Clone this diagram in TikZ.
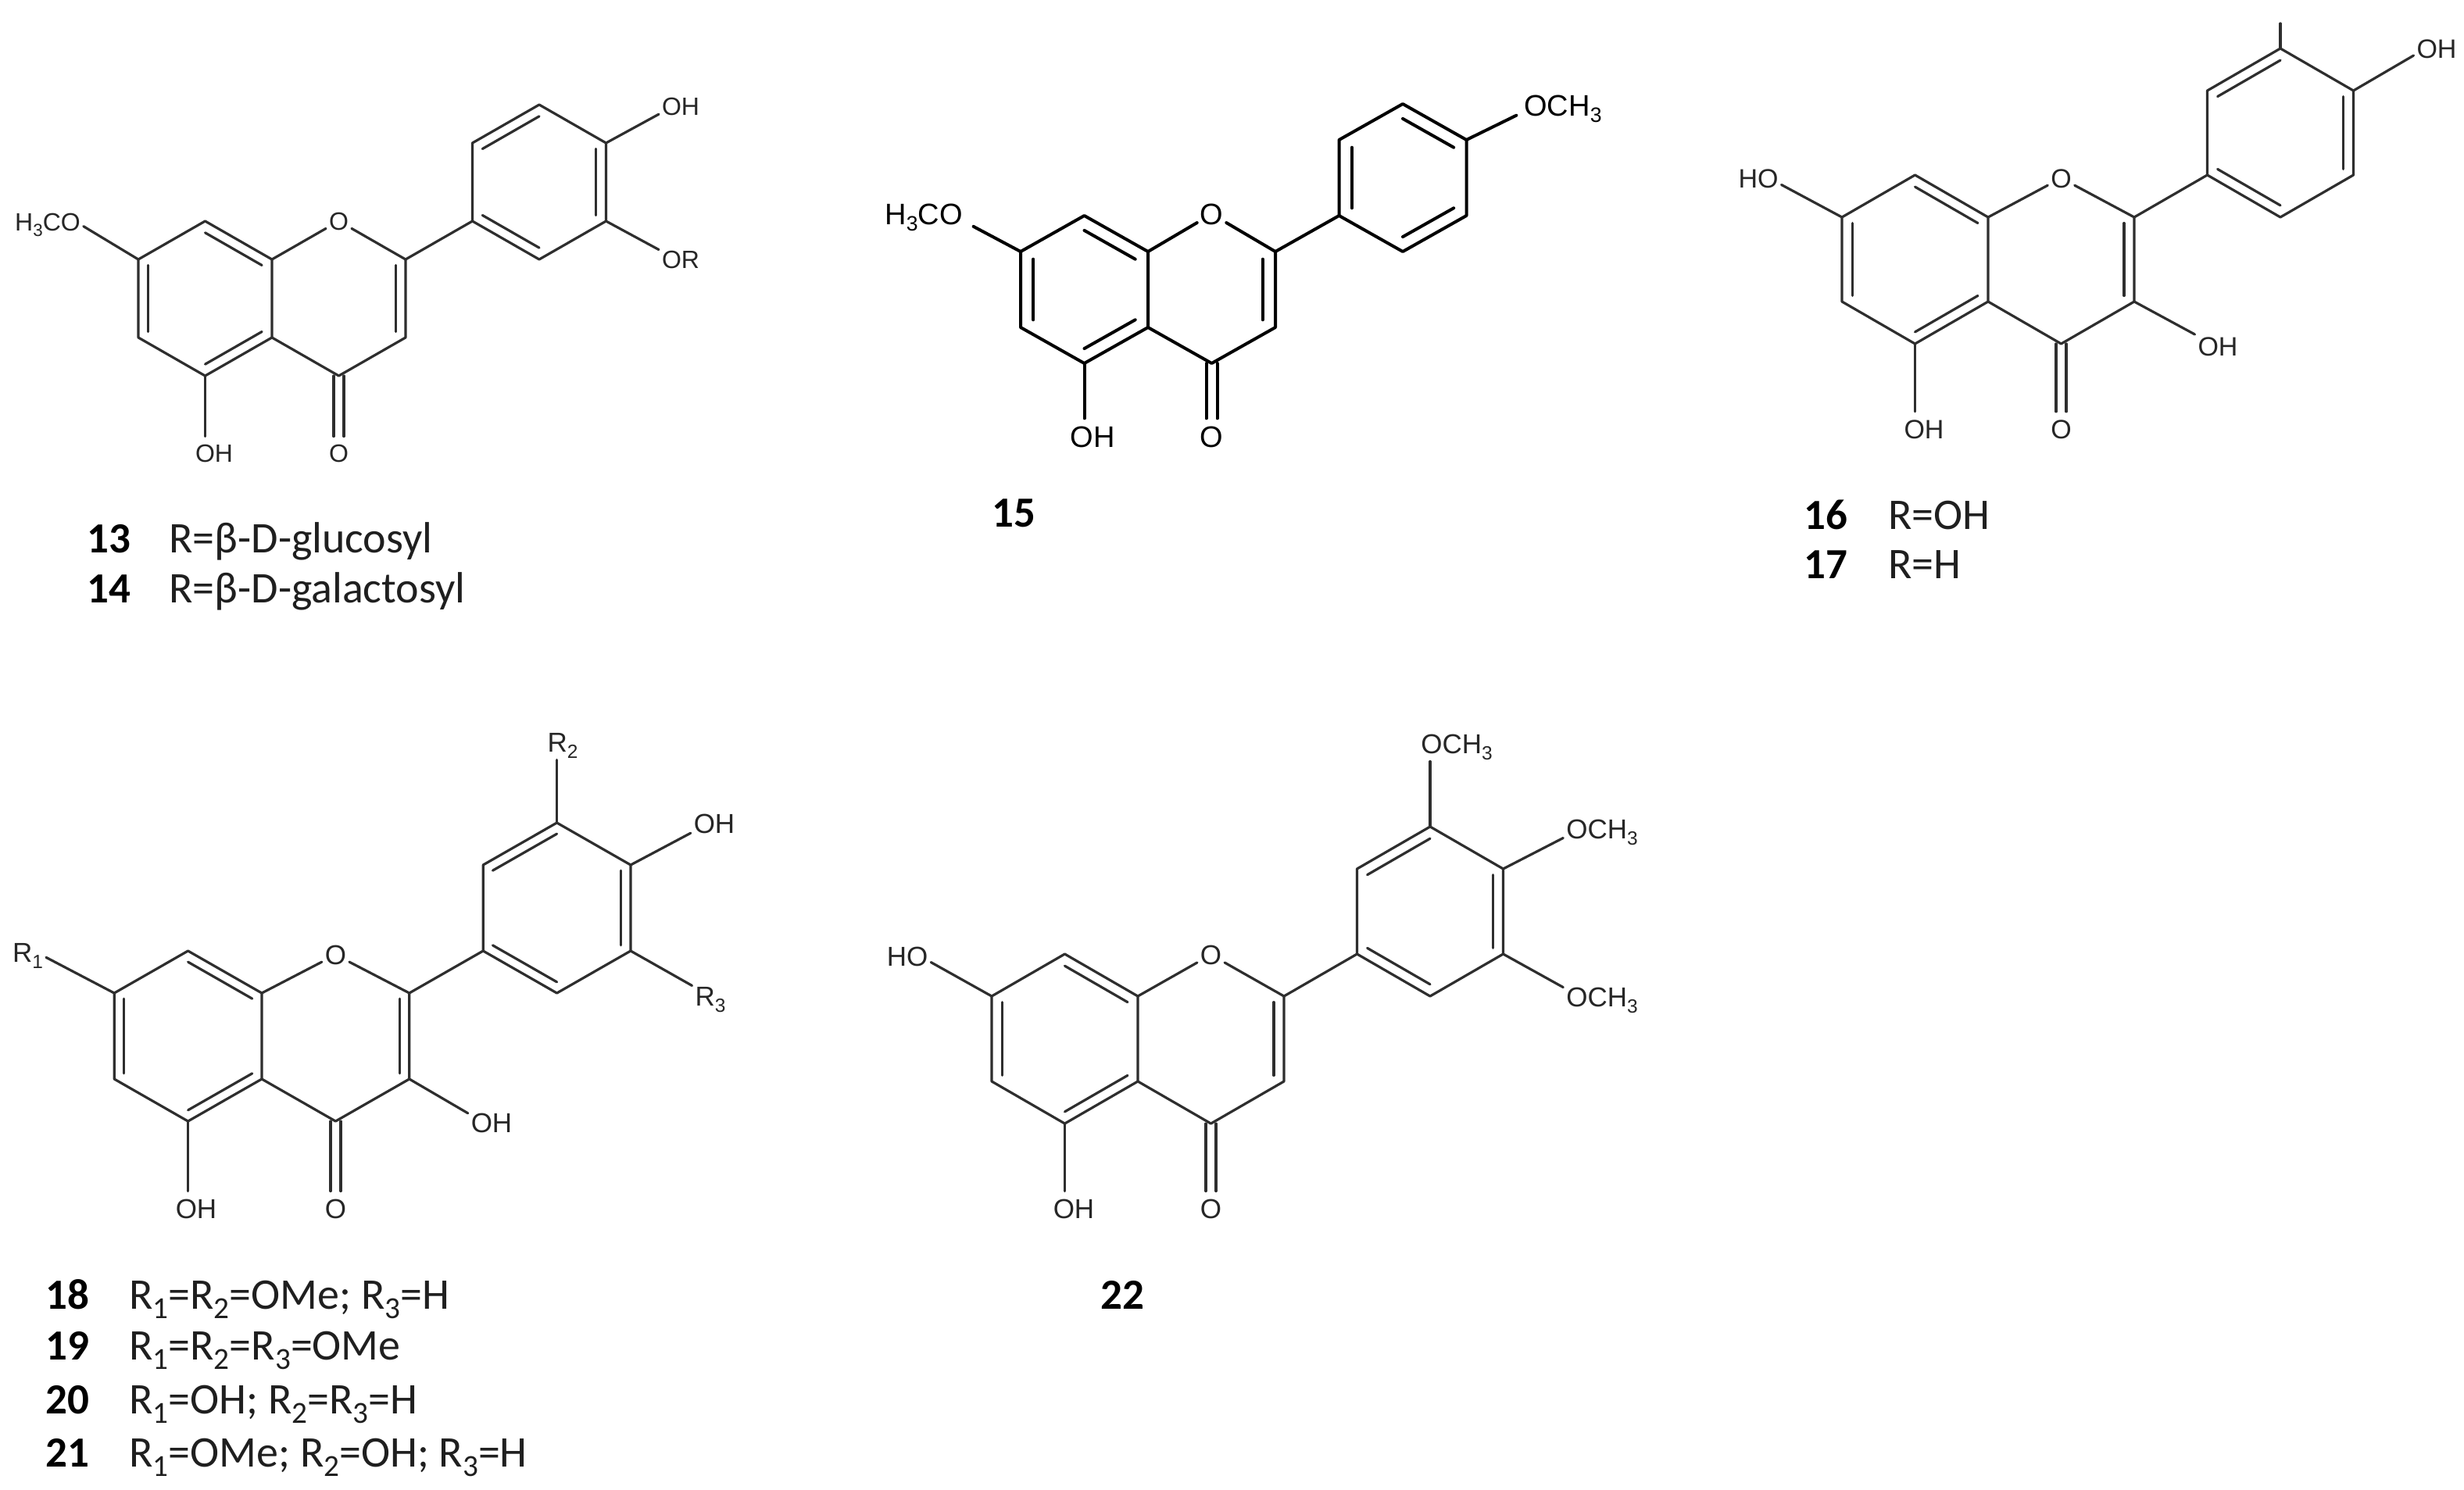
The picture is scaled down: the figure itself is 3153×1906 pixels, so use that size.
\documentclass[tikz,border=0pt]{standalone}
\usepackage{fontspec}
\setmainfont{Carlito}
\newfontfamily\chemfont{Liberation Sans}
\usetikzlibrary{calc}
\newcommand\chsub[1]{\raisebox{-.22em}{\scalebox{.7}{#1}}}
\newcommand\dbl[3]{\draw[bond] ($(#1)!\dblf!(#3)$) -- ($(#2)!\dblf!(#3)$);}
% p X Y a h r Oy Ocy OHx
\newcommand\flavone[9]{%
 \coordinate (#1-C8a) at (#2,#3);
 \coordinate (#1-C4a) at (#2,{#3+#5});
 \coordinate (#1-C8) at ({#2-#4},{#3-#6});
 \coordinate (#1-C7) at ({#2-2*#4},#3);
 \coordinate (#1-C6) at ({#2-2*#4},{#3+#5});
 \coordinate (#1-C5) at ({#2-#4},{#3+#5+#6});
 \coordinate (#1-C2) at ({#2+2*#4},#3);
 \coordinate (#1-C3) at ({#2+2*#4},{#3+#5});
 \coordinate (#1-C4) at ({#2+#4},{#3+#5+#6});
 \coordinate (#1-Bi) at ({#2+3*#4},{#3-#6});
 \coordinate (#1-Bo) at ({#2+4*#4},#3);
 \coordinate (#1-Bm) at ({#2+5*#4},{#3-#6});
 \coordinate (#1-Bp) at ({#2+5*#4},{#3-#6-#5});
 \coordinate (#1-Bn) at ({#2+4*#4},{#3-2*#6-#5});
 \coordinate (#1-Bq) at ({#2+3*#4},{#3-#6-#5});
 \coordinate (#1-Ac) at ({#2-#4},{#3+.5*#5});
 \coordinate (#1-Cc) at ({#2+#4},{#3+.5*#5});
 \coordinate (#1-Bc) at ({#2+4*#4},{#3-#6-.5*#5});
 \node[chem] (#1-O1) at ({#2+#4},#7) {O};
 \node[chem] (#1-Ok) at ({#2+#4},#8) {O};
 \node[chem] (#1-OH5) at (#9,#8) {OH};
 \draw[bond] (#1-C8a) -- (#1-C8) -- (#1-C7) -- (#1-C6) -- (#1-C5) -- (#1-C4a) -- (#1-C8a);
 \draw[bond] (#1-C4a) -- (#1-C4) -- (#1-C3) -- (#1-C2);
 \draw[bond] (#1-C8a) -- (#1-O1);
 \draw[bond] (#1-C2) -- (#1-O1);
 \draw[bond] (#1-C2) -- (#1-Bi) -- (#1-Bo) -- (#1-Bm) -- (#1-Bp) -- (#1-Bn) -- (#1-Bq) -- (#1-Bi);
 \draw[bond] (#1-C5) -- (#1-C5 |- #1-OH5.north);
 \draw[bond] ([xshift=-\cogap]#1-C4) -- ([xshift=-\cogap]#1-C4 |- #1-Ok.north);
 \draw[bond] ([xshift=\cogap]#1-C4) -- ([xshift=\cogap]#1-C4 |- #1-Ok.north);
 \dbl{#1-C7}{#1-C6}{#1-Ac}
 \dbl{#1-C8}{#1-C8a}{#1-Ac}
 \dbl{#1-C5}{#1-C4a}{#1-Ac}
 \dbl{#1-C2}{#1-C3}{#1-Cc}
}
\tikzset{
 bond/.style={draw=black!82,line width=1.6pt,line cap=round,line join=round},
 chem/.style={font=\chemfont\fontsize{\csize}{\csize}\selectfont,text=black!85,inner xsep=2pt,inner ysep=5pt,outer sep=0pt,text height={0.716*\csize pt},text depth=0pt},
 num/.style={font=\bfseries\fontsize{27.5}{27.5}\selectfont,inner sep=0pt,text height=17.5pt,text depth=0pt,text=black},
 desc/.style={font=\fontsize{28}{28}\selectfont,inner sep=0pt,anchor=west,text height=17.5pt,text depth=0pt,text=black!88},
}
\begin{document}
\begin{tikzpicture}[x=0.5pt,y=-0.5pt]
\useasboundingbox (0,0) rectangle (3153,1906);
\def\cogap{3.25pt}
% ---- 13/14
\begin{scope}
\def\csize{16}\def\dblf{.15}
\flavone{a}{348}{332}{85.5}{100}{49}{283}{580}{274}
\dbl{a-Bn}{a-Bq}{a-Bc}
\dbl{a-Bm}{a-Bp}{a-Bc}
\dbl{a-Bi}{a-Bo}{a-Bc}
\node[chem] (a-me) at (61,284) {H\chsub{3}CO};
\node[chem] (a-oh) at (871,136) {OH};
\node[chem] (a-or) at (871,332) {OR};
\draw[bond] (a-C7) -- (a-me.-7);
\draw[bond] (a-Bp) -- (a-oh.200);
\draw[bond] (a-Bm) -- (a-or.156);
\end{scope}
\node[num] (n13) at (139,690) {13};
\node[desc] (d13) at (216,690) {R=β-D-glucosyl};
\node[num] (n14) at (139,754) {14};
\node[desc] (d14) at (216,754) {R=β-D-galactosyl};
% ---- 15
\begin{scope}
\def\csize{19}\def\dblf{.2}\def\cogap{3.5pt}
\tikzset{bond/.style={draw=black,line width=2pt,line cap=round,line join=round},
 chem/.append style={text=black}}
\flavone{b}{1469}{322}{81.5}{97}{46}{274}{559}{1398}
\dbl{b-Bp}{b-Bn}{b-Bc}
\dbl{b-Bq}{b-Bi}{b-Bc}
\dbl{b-Bo}{b-Bm}{b-Bc}
\node[chem,inner xsep=7pt] (b-me) at (1182,274) {H\chsub{3}CO};
\node[chem,inner xsep=5pt] (b-ome) at (2000,135) {OCH\chsub{3}};
\draw[bond] (b-C7) -- (b-me.-14);
\draw[bond] (b-Bp) -- (b-ome.192);
\end{scope}
\node[num] (n15) at (1297,657) {15};
% ---- 16/17
\begin{scope}
\def\csize{17}\def\dblf{.14}
\flavone{c}{2544}{278}{93.5}{108}{54}{228}{549}{2462}
\dbl{c-Bn}{c-Bq}{c-Bc}
\dbl{c-Bm}{c-Bp}{c-Bc}
\dbl{c-Bi}{c-Bo}{c-Bc}
\node[chem] (c-ho) at (2250,228) {HO};
\node[chem] (c-oh3) at (2838,443) {OH};
\node[chem] (c-oh4) at (3118,62) {OH};
\coordinate (c-stub) at (2918,30);
\draw[bond] (c-C7) -- (c-ho.-16);
\draw[bond] (c-C3) -- (c-oh3.153);
\draw[bond] (c-Bp) -- (c-oh4.197);
\draw[bond] (c-Bn) -- (c-stub);
\end{scope}
\node[num] (n16) at (2336,660) {16};
\node[desc] (d16) at (2416,660) {R=OH};
\node[num] (n17) at (2336,723) {17};
\node[desc] (d17) at (2416,723) {R=H};
% ---- 18-21
\begin{scope}
\def\csize{17.5}\def\dblf{.13}
\flavone{d}{335}{1271}{94.4}{110}{54}{1222}{1547}{251}
\dbl{d-Bn}{d-Bq}{d-Bc}
\dbl{d-Bm}{d-Bp}{d-Bc}
\dbl{d-Bi}{d-Bo}{d-Bc}
\node[chem] (d-r1) at (35.5,1219) {R\chsub{1}};
\node[chem] (d-r2) at (720,950) {R\chsub{2}};
\node[chem] (d-r3) at (909,1275) {R\chsub{3}};
\node[chem] (d-oh4) at (914,1054) {OH};
\node[chem] (d-oh3) at (629,1437) {OH};
\draw[bond] (d-C7) -- (d-r1.-15);
\draw[bond] (d-Bn) -- (d-Bn |- d-r2.south);
\draw[bond] (d-Bm) -- (d-r3.150);
\draw[bond] (d-Bp) -- (d-oh4.202);
\draw[bond] (d-C3) -- (d-oh3.158);
\end{scope}
\node[num] (n18) at (86,1658) {18};
\node[desc] (d18) at (165,1658) {R\chsub{1}=R\chsub{2}=OMe; R\chsub{3}=H};
\node[num] (n19) at (86,1723) {19};
\node[desc] (d19) at (165,1723) {R\chsub{1}=R\chsub{2}=R\chsub{3}=OMe};
\node[num] (n20) at (86,1792) {20};
\node[desc] (d20) at (165,1792) {R\chsub{1}=OH; R\chsub{2}=R\chsub{3}=H};
\node[num] (n21) at (86,1860) {21};
\node[desc] (d21) at (165,1860) {R\chsub{1}=OMe; R\chsub{2}=OH; R\chsub{3}=H};
% ---- 22
\begin{scope}
\def\csize{17.5}\def\dblf{.14}
\flavone{e}{1456}{1275}{93.5}{109}{54}{1222}{1547}{1374}
\dbl{e-Bn}{e-Bq}{e-Bc}
\dbl{e-Bm}{e-Bp}{e-Bc}
\dbl{e-Bi}{e-Bo}{e-Bc}
\node[chem] (e-ho) at (1161,1224) {HO};
\node[chem] (e-ome1) at (1864,952) {OCH\chsub{3}};
\node[chem] (e-ome2) at (2050,1061) {OCH\chsub{3}};
\node[chem] (e-ome3) at (2050,1276) {OCH\chsub{3}};
\draw[bond] (e-C7) -- (e-ho.-14);
\draw[bond] (e-Bn) -- (e-Bn |- e-ome1.south);
\draw[bond] (e-Bp) -- (e-ome2.193);
\draw[bond] (e-Bm) -- (e-ome3.166);
\end{scope}
\node[num] (n22) at (1436,1658) {22};
\end{tikzpicture}
\end{document}
